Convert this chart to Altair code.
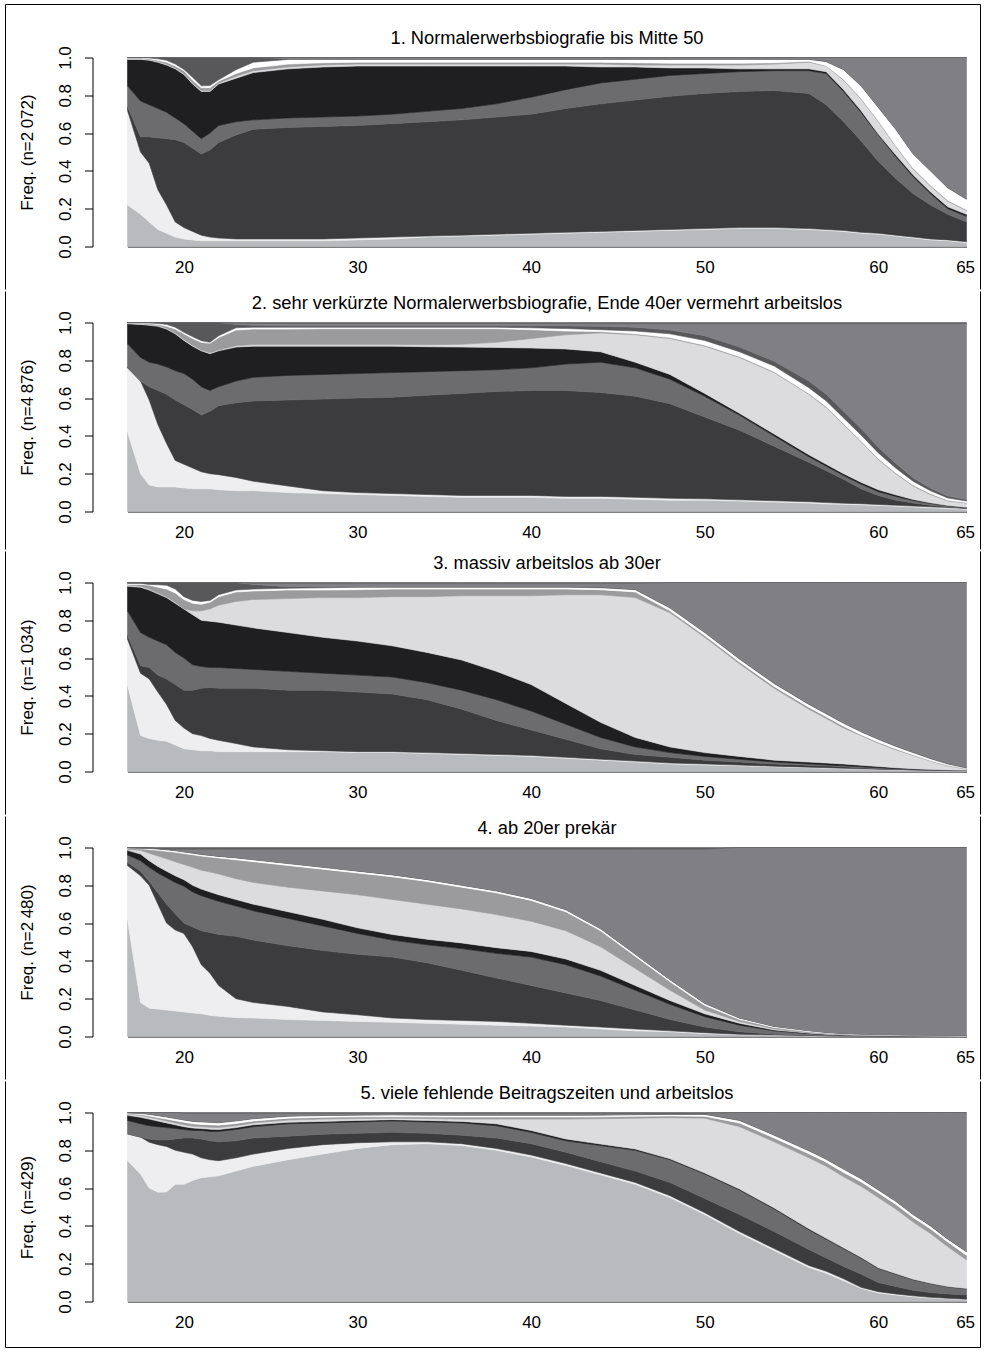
import altair as alt
import pandas as pd

# ---------------- data ----------------
AGES = [16.75, 17.5, 18, 18.5, 19, 19.5, 20, 20.5, 21, 21.5, 22, 23, 24, 26, 28, 30, 32, 34, 36, 38,
        40, 42, 44, 46, 48, 50, 52, 54, 56, 57, 58, 59, 60, 61, 62, 63, 64, 65.08]
X_TICKS = [20, 30, 40, 50, 60, 65]
Y_TICKS = [0.0, 0.2, 0.4, 0.6, 0.8, 1.0]

STATES = ["Zustand 1", "Zustand 2", "Zustand 3", "Zustand 4", "Zustand 5", "Zustand 6",
          "Zustand 7", "Zustand 8", "Zustand 9", "Zustand 10", "Zustand 11"]
COLORS = ["#b9babd", "#eeeef0", "#3c3c3e", "#6c6c6f", "#1f1f21", "#dcdcde",
          "#9b9b9e", "#ffffff", "#58585b", "#808084", "#5f5f62"]

TITLES = [
    "1. Normalerwerbsbiografie bis Mitte 50",
    "2. sehr verkürzte Normalerwerbsbiografie, Ende 40er vermehrt arbeitslos",
    "3. massiv arbeitslos ab 30er",
    "4. ab 20er prekär",
    "5. viele fehlende Beitragszeiten und arbeitslos",
]
Y_TITLES = ["Freq. (n=2\u2009072)", "Freq. (n=4\u2009876)", "Freq. (n=1\u2009034)",
            "Freq. (n=2\u2009480)", "Freq. (n=429)"]

# cumulative upper edges of states 1..10 (state 11 reaches 1.0), one list per edge
P1_EDGES = [
    [.22, .17, .13, .09, .07, .05, .04, .035, .03, .03, .03, .03, .03, .03, .03, .035, .04, .05, .055, .06, .065, .07, .075, .08, .085, .09, .095, .095, .09, .085, .08, .07, .065, .055, .045, .035, .03, .02],
    [.72, .50, .44, .30, .22, .13, .10, .08, .06, .05, .045, .04, .04, .04, .04, .045, .05, .055, .06, .065, .07, .075, .08, .085, .09, .095, .10, .10, .095, .09, .085, .075, .07, .06, .05, .04, .035, .025],
    [.74, .58, .58, .575, .57, .565, .55, .52, .49, .51, .55, .59, .62, .63, .635, .64, .65, .66, .67, .685, .70, .73, .755, .775, .795, .81, .82, .825, .81, .75, .66, .56, .45, .36, .28, .22, .17, .13],
    [.85, .77, .75, .73, .71, .68, .65, .61, .57, .60, .64, .66, .67, .68, .685, .69, .70, .715, .73, .755, .79, .83, .865, .885, .905, .915, .925, .93, .93, .915, .82, .71, .59, .475, .37, .28, .20, .16],
    [.99, .99, .985, .975, .96, .94, .91, .86, .82, .82, .86, .89, .92, .94, .95, .955, .955, .955, .955, .955, .955, .955, .95, .95, .945, .945, .94, .94, .94, .925, .83, .72, .595, .485, .38, .29, .21, .17],
    [.995, .995, .99, .98, .965, .945, .915, .865, .825, .825, .865, .90, .93, .95, .96, .965, .965, .965, .965, .965, .965, .965, .965, .96, .96, .96, .96, .965, .975, .955, .88, .78, .66, .53, .41, .32, .24, .19],
    [.997, .997, .993, .985, .975, .955, .93, .88, .84, .84, .875, .915, .945, .965, .972, .975, .975, .975, .975, .975, .975, .975, .975, .972, .97, .97, .97, .972, .98, .957, .885, .785, .665, .535, .415, .325, .245, .195],
    [1, 1, .998, .993, .985, .965, .937, .895, .85, .852, .882, .935, .975, .99, .99, .99, .99, .99, .99, .99, .99, .99, .99, .99, .99, .99, .99, .99, .99, .978, .935, .85, .735, .62, .49, .40, .31, .25],
    [1, 1, 1, 1, 1, 1, 1, 1, 1, 1, 1, 1, 1, .995, .995, .995, .995, .995, .995, .995, .995, .995, .995, .995, .995, .995, .995, .995, .994, .982, .939, .854, .739, .624, .494, .404, .314, .254],
    [1, 1, 1, 1, 1, 1, 1, 1, 1, 1, 1, 1, 1, 1, 1, 1, 1, 1, 1, 1, 1, 1, 1, 1, 1, 1, 1, 1, 1, 1, 1, 1, 1, 1, 1, 1, 1, 1],
]
P2_EDGES = [
    [.42, .20, .14, .13, .13, .13, .125, .12, .12, .12, .115, .11, .11, .10, .095, .09, .085, .08, .075, .075, .075, .07, .07, .065, .06, .06, .055, .05, .045, .04, .038, .035, .032, .028, .024, .02, .016, .012],
    [.76, .69, .59, .46, .36, .27, .25, .23, .21, .20, .195, .18, .16, .135, .11, .10, .095, .09, .085, .085, .085, .08, .08, .075, .07, .067, .062, .057, .052, .047, .044, .041, .037, .033, .029, .025, .021, .016],
    [.765, .675, .66, .64, .62, .59, .565, .54, .51, .53, .56, .575, .585, .59, .595, .60, .605, .615, .625, .635, .64, .64, .63, .61, .57, .50, .43, .345, .26, .215, .17, .12, .085, .06, .045, .033, .025, .018],
    [.887, .815, .79, .78, .765, .745, .73, .70, .66, .64, .66, .69, .71, .72, .725, .73, .735, .74, .745, .75, .76, .78, .79, .76, .70, .61, .51, .40, .29, .24, .19, .145, .105, .08, .058, .042, .03, .02],
    [.993, .99, .985, .98, .965, .94, .905, .875, .85, .835, .85, .87, .875, .875, .875, .875, .875, .872, .87, .868, .865, .86, .845, .79, .725, .625, .52, .41, .30, .25, .20, .155, .115, .088, .064, .046, .032, .022],
    [.995, .993, .99, .985, .97, .945, .91, .88, .855, .84, .855, .877, .883, .883, .883, .883, .883, .882, .885, .895, .915, .935, .945, .935, .915, .875, .815, .735, .62, .55, .46, .37, .275, .20, .135, .09, .056, .044],
    [.997, .996, .994, .99, .98, .965, .94, .915, .895, .89, .92, .96, .965, .965, .967, .967, .967, .967, .967, .967, .962, .955, .952, .94, .92, .88, .82, .74, .625, .555, .465, .375, .28, .205, .14, .095, .06, .047],
    [.999, .998, .997, .995, .99, .975, .948, .925, .904, .895, .93, .972, .975, .975, .975, .975, .975, .975, .975, .975, .972, .968, .962, .955, .94, .905, .845, .77, .655, .585, .495, .405, .31, .23, .16, .11, .072, .055],
    [1, 1, 1, 1, 1, 1, 1, 1, 1, 1, 1, .99, .985, .982, .982, .982, .982, .982, .982, .982, .982, .982, .98, .975, .96, .93, .87, .795, .69, .62, .53, .44, .34, .255, .178, .123, .082, .063],
    [1, 1, 1, 1, 1, 1, 1, 1, 1, 1, 1, .995, .995, .995, .995, .995, .995, .995, .995, .995, .995, .995, .994, .994, .994, .994, .994, .994, .994, .994, .994, .994, .994, .994, .994, .994, .994, .994],
]
P3_EDGES = [
    [.455, .19, .175, .165, .16, .14, .12, .115, .11, .11, .105, .105, .105, .105, .105, .10, .10, .095, .09, .085, .08, .07, .06, .05, .04, .035, .03, .025, .02, .017, .015, .012, .01, .008, .006, .005, .004, .003],
    [.70, .52, .49, .42, .355, .27, .23, .20, .19, .175, .165, .148, .13, .115, .11, .105, .105, .10, .095, .09, .085, .075, .065, .055, .045, .04, .034, .028, .023, .02, .017, .014, .012, .01, .008, .006, .005, .004],
    [.72, .56, .55, .51, .49, .46, .43, .43, .44, .445, .44, .44, .44, .43, .43, .42, .41, .38, .33, .27, .22, .17, .12, .09, .075, .06, .05, .04, .033, .03, .025, .02, .015, .012, .009, .007, .005, .004],
    [.85, .735, .71, .69, .67, .63, .60, .565, .555, .55, .55, .545, .54, .53, .52, .51, .50, .47, .43, .38, .32, .25, .18, .13, .10, .08, .065, .05, .04, .035, .03, .025, .02, .015, .012, .009, .007, .005],
    [.98, .975, .96, .94, .92, .89, .86, .83, .80, .795, .79, .775, .76, .735, .71, .69, .665, .63, .59, .53, .46, .36, .26, .18, .13, .10, .08, .06, .05, .045, .04, .033, .027, .02, .015, .011, .008, .006],
    [.987, .98, .965, .945, .925, .895, .86, .85, .85, .86, .88, .90, .91, .915, .92, .92, .925, .925, .93, .93, .93, .935, .935, .92, .84, .71, .57, .44, .33, .28, .23, .19, .15, .115, .085, .055, .03, .012],
    [.99, .99, .985, .975, .965, .945, .91, .89, .885, .895, .925, .95, .955, .96, .96, .962, .965, .965, .965, .965, .965, .965, .962, .95, .85, .72, .58, .45, .34, .29, .24, .195, .155, .12, .088, .058, .033, .014],
    [.995, .995, .99, .988, .985, .965, .925, .905, .90, .905, .935, .96, .965, .97, .972, .975, .975, .975, .975, .975, .975, .975, .972, .962, .865, .735, .595, .465, .355, .305, .255, .21, .17, .133, .10, .068, .04, .018],
    [1, 1, 1, 1, 1, 1, 1, 1, 1, 1, 1, 1, .99, .978, .978, .978, .978, .978, .978, .978, .978, .978, .976, .966, .869, .739, .599, .469, .359, .309, .259, .214, .174, .137, .104, .072, .044, .022],
    [1, 1, 1, 1, 1, 1, 1, 1, 1, 1, 1, 1, .995, .995, .995, .995, .995, .995, .995, .995, .995, .995, .995, .995, 1, 1, 1, 1, 1, 1, 1, 1, 1, 1, 1, 1, 1, 1],
]
P4_EDGES = [
    [.616, .18, .15, .145, .14, .135, .13, .125, .12, .112, .107, .10, .098, .09, .085, .08, .075, .07, .065, .06, .055, .05, .04, .03, .025, .015, .01, .007, .004, .003, .003, .002, .002, .001, .001, .001, .001, .001],
    [.905, .85, .80, .70, .60, .563, .545, .475, .38, .335, .27, .20, .18, .159, .13, .115, .098, .09, .085, .08, .07, .06, .05, .04, .03, .02, .012, .008, .005, .004, .003, .002, .002, .001, .001, .001, .001, .001],
    [.92, .875, .82, .76, .70, .65, .60, .58, .56, .55, .54, .53, .51, .48, .455, .435, .42, .39, .35, .31, .27, .23, .19, .14, .09, .05, .025, .012, .006, .004, .003, .002, .002, .001, .001, .001, .001, .001],
    [.96, .93, .895, .865, .84, .815, .795, .765, .745, .73, .715, .69, .665, .625, .585, .545, .51, .485, .465, .44, .42, .38, .32, .245, .17, .105, .06, .03, .015, .01, .007, .005, .004, .003, .002, .002, .001, .001],
    [.985, .965, .93, .90, .875, .85, .83, .80, .78, .765, .75, .725, .70, .66, .62, .575, .54, .515, .495, .47, .45, .41, .35, .27, .19, .12, .07, .035, .018, .012, .009, .006, .005, .004, .003, .002, .002, .001],
    [.99, .985, .97, .955, .94, .925, .91, .895, .88, .87, .86, .835, .815, .79, .77, .75, .725, .70, .675, .645, .61, .56, .475, .36, .245, .14, .08, .04, .02, .014, .01, .007, .006, .005, .004, .003, .003, .002],
    [.995, .993, .99, .985, .98, .975, .968, .962, .955, .95, .945, .935, .925, .905, .885, .865, .845, .82, .79, .76, .72, .66, .56, .425, .29, .165, .09, .048, .025, .018, .013, .01, .008, .007, .006, .005, .004, .003],
    [.997, .996, .995, .992, .988, .983, .976, .97, .963, .958, .953, .945, .935, .915, .895, .875, .855, .83, .80, .77, .73, .67, .57, .435, .30, .175, .097, .053, .03, .021, .015, .012, .01, .008, .007, .006, .005, .004],
    [.999, .998, .997, .994, .99, .985, .978, .972, .965, .96, .955, .947, .937, .917, .897, .877, .857, .832, .802, .772, .732, .672, .572, .437, .302, .177, .099, .055, .032, .023, .017, .014, .012, .01, .009, .008, .007, .006],
    [1, .99, .99, .99, .99, .99, .99, .99, .99, .99, .99, .99, .99, .99, .99, .99, .99, .99, .99, .99, .99, .99, .99, .99, .99, .99, 1, 1, 1, 1, 1, 1, 1, 1, 1, 1, 1, 1],
]
P5_EDGES = [
    [.745, .675, .60, .578, .58, .62, .62, .64, .655, .66, .665, .69, .715, .75, .78, .81, .83, .835, .825, .80, .765, .72, .67, .62, .55, .46, .36, .27, .18, .15, .11, .07, .045, .035, .025, .018, .014, .009],
    [.887, .87, .843, .83, .82, .80, .79, .78, .76, .75, .745, .76, .78, .81, .83, .84, .845, .845, .835, .81, .775, .73, .68, .63, .56, .47, .37, .28, .19, .16, .12, .075, .052, .04, .03, .022, .017, .012],
    [.887, .87, .86, .855, .855, .86, .865, .865, .86, .85, .845, .85, .865, .875, .885, .89, .895, .89, .88, .865, .835, .79, .74, .69, .63, .545, .46, .37, .275, .23, .185, .145, .10, .08, .06, .048, .04, .035],
    [.958, .94, .93, .925, .92, .915, .91, .905, .905, .90, .90, .91, .925, .94, .945, .95, .955, .95, .945, .93, .895, .85, .825, .80, .75, .675, .59, .49, .38, .33, .28, .23, .175, .145, .115, .095, .077, .067],
    [.985, .975, .965, .955, .945, .935, .925, .918, .915, .912, .91, .92, .935, .948, .953, .958, .962, .958, .953, .94, .905, .86, .833, .807, .755, .68, .595, .495, .385, .334, .284, .234, .178, .148, .118, .097, .079, .069],
    [.99, .985, .975, .965, .955, .945, .935, .928, .925, .922, .92, .93, .945, .96, .965, .968, .97, .968, .965, .965, .965, .965, .967, .97, .972, .97, .925, .845, .76, .715, .66, .61, .55, .49, .42, .36, .29, .22],
    [.993, .99, .982, .973, .965, .957, .948, .94, .937, .935, .933, .942, .955, .97, .975, .977, .978, .977, .976, .976, .976, .976, .977, .98, .982, .98, .945, .865, .782, .737, .683, .634, .575, .515, .445, .385, .315, .245],
    [.997, .995, .99, .983, .976, .968, .96, .953, .95, .948, .946, .955, .967, .98, .984, .986, .987, .986, .985, .985, .985, .985, .986, .988, .99, .99, .958, .88, .797, .752, .70, .65, .59, .53, .46, .40, .33, .263],
    [1, .998, .993, .986, .979, .971, .963, .956, .953, .951, .949, .958, .97, .983, .987, .989, .99, .989, .988, .988, .988, .988, .989, .991, .993, .993, .961, .883, .80, .755, .703, .653, .593, .533, .463, .403, .333, .266],
    [1, 1, 1, 1, 1, 1, .995, .995, .995, .995, .995, .995, .995, .995, .995, .995, .995, .995, .995, .995, .995, .995, .995, .995, .995, .995, 1, 1, 1, 1, 1, 1, 1, 1, 1, 1, 1, 1],
]
ALL_EDGES = [P1_EDGES, P2_EDGES, P3_EDGES, P4_EDGES, P5_EDGES]

# ---------------- layout (pixels) ----------------
W, H = 839, 189
FRAME_LEFT, FRAME_RIGHT = -122, 853
ABOVE = [53, 31, 31, 31, 31]     # frame space above each plot
BELOW = [43, 38, 43, 43, 46]     # frame space below each plot
FONT = "Liberation Sans"


def table(edges):
    rows = []
    for i, age in enumerate(AGES):
        lo = 0.0
        tops = [e[i] for e in edges] + [1.0]
        for k, state in enumerate(STATES):
            hi = max(lo, min(1.0, tops[k]))
            rows.append({"age": age, "state": state, "lo": lo, "hi": hi})
            lo = hi
    return pd.DataFrame(rows)


one = pd.DataFrame({"d": [0]})
cscale = alt.Scale(domain=STATES, range=COLORS)


def panel(p):
    df = table(ALL_EDGES[p])
    area = alt.Chart(df).mark_area(interpolate="linear", strokeWidth=0.6).encode(
        x=alt.X("age:Q",
                scale=alt.Scale(domain=[16.75, 65.08], nice=False, zero=False),
                axis=alt.Axis(values=X_TICKS, title=None, ticks=False, tickSize=0,
                              domain=True, domainColor="black", domainWidth=1.2,
                              labelFontSize=17, labelFont=FONT, labelColor="black",
                              labelPadding=13, grid=False, labelFlush=False,
                              labelOverlap=False)),
        y=alt.Y("lo:Q", stack=False,
                scale=alt.Scale(domain=[0, 1], nice=False, zero=False),
                axis=alt.Axis(values=Y_TICKS, format=".1f", title=Y_TITLES[p],
                              offset=35, tickSize=8, tickColor="black", tickWidth=1,
                              domainColor="black", domainWidth=1,
                              labelAngle=270, labelAlign="center", labelBaseline="bottom",
                              labelPadding=10, labelFontSize=17, labelFont=FONT,
                              labelColor="black", labelFlush=False, labelOverlap=False,
                              titleFont=FONT, titleFontSize=17, titleFontWeight="normal",
                              titleColor="black", titlePadding=20, grid=False)),
        y2="hi:Q",
        color=alt.Color("state:N", scale=cscale, legend=None),
        stroke=alt.Stroke("state:N", scale=cscale, legend=None),
    )
    title = alt.Chart(one).mark_text(font=FONT, fontSize=18.3, color="black",
                                     align="center", baseline="alphabetic").encode(
        x=alt.value(W / 2), y=alt.value(-14), text=alt.value(TITLES[p]))
    left = alt.Chart(one).mark_rule(color="black", strokeWidth=1).encode(
        x=alt.value(FRAME_LEFT), y=alt.value(-ABOVE[p]), y2=alt.value(H + BELOW[p]))
    right = alt.Chart(one).mark_rule(color="black", strokeWidth=1).encode(
        x=alt.value(FRAME_RIGHT), y=alt.value(-ABOVE[p]), y2=alt.value(H + BELOW[p]))
    layers = [area, title, left, right]
    if p == 0:
        layers.append(alt.Chart(one).mark_rule(color="black", strokeWidth=1).encode(
            x=alt.value(FRAME_LEFT), x2=alt.value(FRAME_RIGHT), y=alt.value(-ABOVE[p])))
    if p == 4:
        layers.append(alt.Chart(one).mark_rule(color="black", strokeWidth=1).encode(
            x=alt.value(FRAME_LEFT), x2=alt.value(FRAME_RIGHT), y=alt.value(H + BELOW[p])))
    return alt.layer(*layers).properties(width=W, height=H)


chart = alt.vconcat(*[panel(p) for p in range(5)], spacing=0).properties(
    padding={"left": 4.5, "top": 3.5, "right": 0, "bottom": 0},
    background="white",
).configure_view(stroke="transparent")

chart.save("out.html", embed_options={"renderer": "svg", "actions": False})
